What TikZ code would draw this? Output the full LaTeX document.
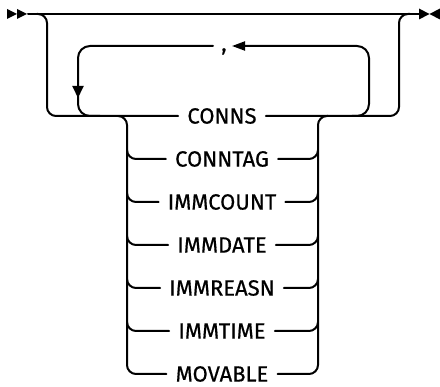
\documentclass[tikz,border=0pt]{standalone}
\usepackage{fontspec}
\setmainfont{Fira Sans}[FakeBold=0.6]
\usetikzlibrary{positioning,arrows.meta}

\providecommand{\rrLineWidth}{2pt}
\providecommand{\rrRadius}{9pt}
\providecommand{\rrLoopRadius}{12pt}
\def\rowsep{43pt}

\tikzset{
  rr/.style={line width=\rrLineWidth, line cap=round, line join=round},
  kw/.style={inner xsep=9pt, inner ysep=0pt, font=\fontsize{22}{25}\selectfont},
  tip/.style={fill=black},
}

\begin{document}
\begin{tikzpicture}[x=1pt, y=-1pt, on grid, node distance=\rowsep]
\useasboundingbox (0,0) rectangle (440,387);
% keywords of the choice stack
\node[kw] (conns) at (222,116) {CONNS};
\node[kw, below=of conns] (conntag) {CONNTAG};
\node[kw, below=of conntag] (immcount) {IMMCOUNT};
\node[kw, below=of immcount] (immdate) {IMMDATE};
\node[kw, below=of immdate] (immreasn) {IMMREASN};
\node[kw, below=of immreasn] (immtime) {IMMTIME};
\node[kw, below=of immtime] (movable) {MOVABLE};
\node[kw, anchor=base] (comma) at (224,51) {,};
% skeleton points
\coordinate (start) at (28,14);
\coordinate (end) at (419,14);
\coordinate (commaL) at (213,46);
\coordinate (commaR) at (232,46);
\coordinate (loopdn) at (78,86);
\begin{scope}[rr]
  % main line
  \draw (start) -- (end);
  % start and end marks
  \fill[tip] (7,9) -- (17,14) -- (7,19) -- cycle;
  \fill[tip] (17,9) -- (27,14) -- (17,19) -- cycle;
  \fill[tip] (419,8.5) -- (429.5,14) -- (419,19.5) -- cycle;
  \fill[tip] (440,8.5) -- (429.5,14) -- (440,19.5) -- cycle;
  % bypass around the whole group
  \draw[rounded corners=\rrRadius] (37,14) -| (47,116) -- (conns.west);
  \draw[rounded corners=\rrRadius] (conns.east) -| (399,14) -- (410,14);
  % repeat loop with separator
  \draw[rounded corners=\rrLoopRadius, -{Triangle[length=13pt, width=9pt]}] (352,116) -| (369,46) -- (commaR);
  \draw[rounded corners=\rrLoopRadius] (commaL) -| (loopdn);
  \draw[-{Triangle[length=12pt, width=11pt]}] (loopdn) -- ++(0,12);
  \draw[rounded corners=\rrLoopRadius] (78,96) |- (100,116);
  % choice stack, left side
  \draw[rounded corners=\rrRadius] (118,116) -| (127,374) -- (movable.west);
  \draw[rounded corners=\rrRadius] (127,150) |- (conntag.west);
  \draw[rounded corners=\rrRadius] (127,193) |- (immcount.west);
  \draw[rounded corners=\rrRadius] (127,236) |- (immdate.west);
  \draw[rounded corners=\rrRadius] (127,279) |- (immreasn.west);
  \draw[rounded corners=\rrRadius] (127,322) |- (immtime.west);
  % choice stack, right side
  \draw[rounded corners=\rrRadius] (movable.east) -| (318,116) -- (328,116);
  \draw[rounded corners=\rrRadius] (conntag.east) -| (318,150);
  \draw[rounded corners=\rrRadius] (immcount.east) -| (318,193);
  \draw[rounded corners=\rrRadius] (immdate.east) -| (318,236);
  \draw[rounded corners=\rrRadius] (immreasn.east) -| (318,279);
  \draw[rounded corners=\rrRadius] (immtime.east) -| (318,322);
\end{scope}
\end{tikzpicture}
\end{document}
